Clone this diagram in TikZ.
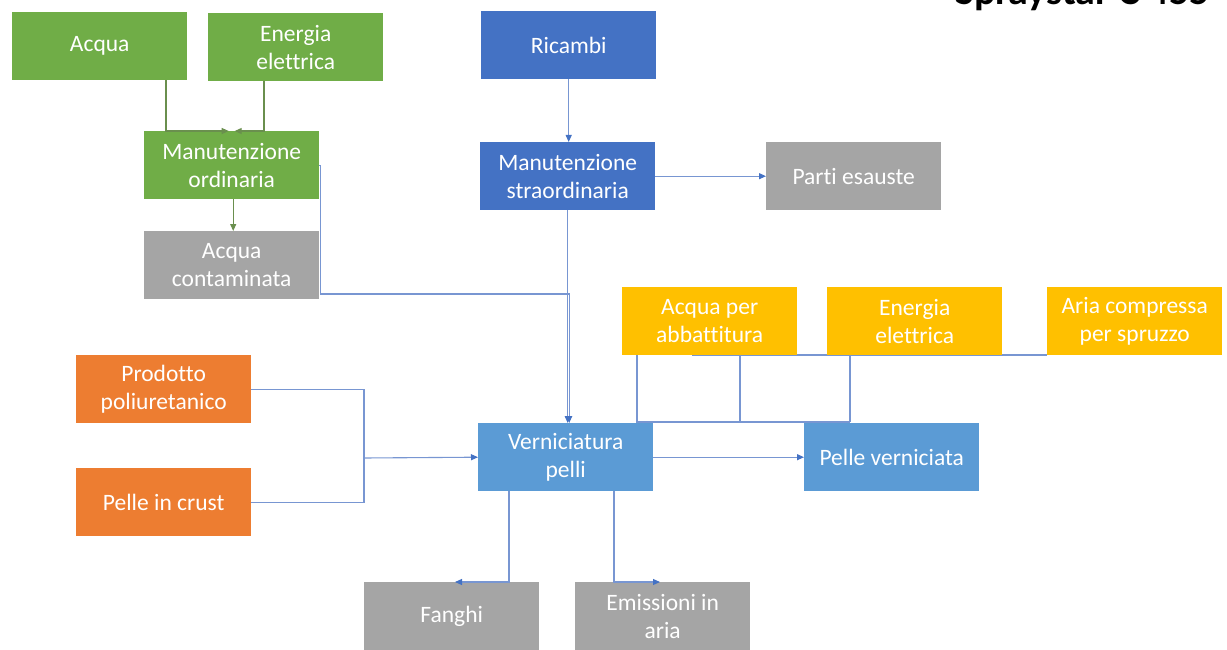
\documentclass[tikz,border=0pt]{standalone}
\usepackage{fontspec}
\setmainfont{Carlito}[Ligatures={NoCommon}]
\usetikzlibrary{arrows.meta}
\definecolor{cgreen}{HTML}{70AD47}
\definecolor{cgray}{HTML}{A5A5A5}
\definecolor{cblue}{HTML}{4472C4}
\definecolor{clblue}{HTML}{5B9BD5}
\definecolor{cyellow}{HTML}{FFC000}
\definecolor{corange}{HTML}{ED7D31}
\definecolor{bline}{HTML}{7896D2}
\definecolor{gline}{HTML}{6A8F4E}
\begin{document}
\begin{tikzpicture}[x=1pt,y=-1pt,
  box/.style={minimum width=175pt, minimum height=68pt, inner sep=0pt, text=white, align=center,
    font=\fontsize{23.5}{28}\selectfont, anchor=north west},
  bl/.style={draw=bline, line width=1.1pt},
  gl/.style={draw=gline, line width=1.1pt},
  barr/.style={bl, -{Triangle[length=7pt,width=6pt,color=cblue]}},
  garr/.style={gl, -{Triangle[length=7pt,width=6pt]}}]
\useasboundingbox (0,0) rectangle (1227,650);
\clip (0,0) rectangle (1227,650);
% title (cut off at the top, as in the reference)
\node[anchor=base west, inner sep=0pt, font=\bfseries\fontsize{40}{44}\selectfont] (title) at (955,5) {Spraystar C 455};
% lines behind boxes (yellow group)
\draw[bl] (637,355) -- (637,422) -- (850,422);
\draw[bl] (740,355) -- (740,422);
\draw[bl] (850,355) -- (850,422);
\draw[bl] (692,355) -- (1047,355);
% boxes
\node[box, fill=cgreen] (acq) at (12,12) {Acqua};
\node[box, fill=cgreen] (ene) at (208,13) {Energia\\elettrica};
\node[box, fill=cgreen] (mo) at (144,131) {Manutenzione\\ordinaria};
\node[box, fill=cgray] (ac) at (144,231) {Acqua\\contaminata};
\node[box, fill=cblue] (ric) at (481,11) {Ricambi};
\node[box, fill=cblue] (ms) at (480,142) {Manutenzione\\straordinaria};
\node[box, fill=cgray] (pe) at (766,142) {Parti esauste};
\node[box, fill=cyellow] (apa) at (622,287) {Acqua per\\abbattitura};
\node[box, fill=cyellow] (ee) at (827,287) {Energia\\elettrica};
\node[box, fill=cyellow] (acp) at (1047,287) {Aria compressa\\per spruzzo};
\node[box, fill=corange] (pp) at (76,355) {Prodotto\\poliuretanico};
\node[box, fill=corange] (pic) at (76,468) {Pelle in crust};
\node[box, fill=clblue] (vp) at (478,423) {Verniciatura\\pelli};
\node[box, fill=clblue] (pv) at (804,423) {Pelle verniciata};
\node[box, fill=cgray] (fa) at (364,582) {Fanghi};
\node[box, fill=cgray] (em) at (575,582) {Emissioni in\\aria};
% green connectors
\draw[garr] (acq.south west) ++(154,0) |- ([xshift=-3pt]mo.north);
\draw[garr] (ene.south west) ++(56,0) |- ([xshift=3pt]mo.north);
\draw[garr] ([xshift=1.5pt]mo.south) -- ([xshift=1.5pt]ac.north);
% blue connectors
\draw[barr] (ric.south) -- (ric.south |- ms.north);
\draw[barr] (ms.east) -- (pe.west);
\draw[barr] (ms.south) -- (ms.south |- vp.north);
\draw[barr] (mo.east) -- ++(1,0) |- ([xshift=1.5pt]ms.south |- 0,294) -- ([xshift=1.5pt]ms.south |- vp.north);
\coordinate (join) at (364,458);
\draw[bl] (pp.east) -| (join) |- (pic.east);
\draw[barr] (join) -- (vp.west);
\draw[barr] (vp.east) -- (pv.west);
\draw[barr] ([xshift=31pt]vp.south west) |- ([xshift=91pt]fa.north west);
\draw[barr] ([xshift=136pt]vp.south west) |- ([xshift=85pt]em.north west);
\end{tikzpicture}
\end{document}
